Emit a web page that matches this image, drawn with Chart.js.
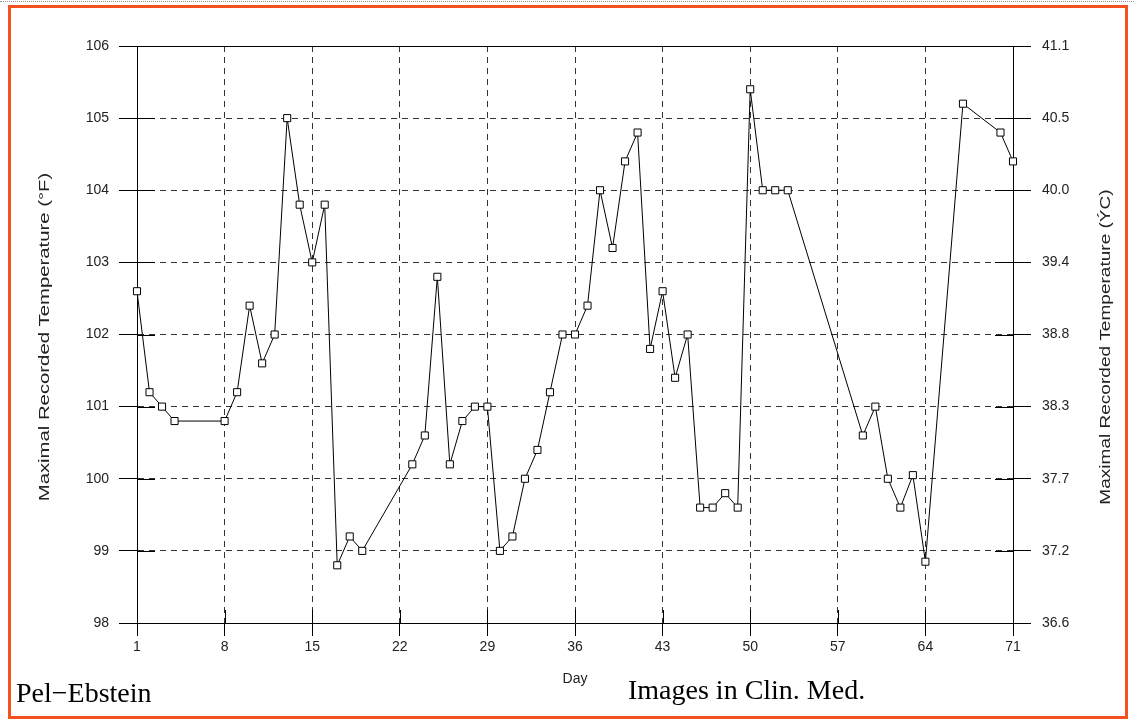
<!DOCTYPE html>
<html>
<head>
<meta charset="utf-8">
<script src="https://cdn.jsdelivr.net/npm/chart.js@4/dist/chart.umd.min.js"></script>
<style>
  html, body { margin: 0; padding: 0; background: #fff; }
  #wrap { position: relative; width: 1134px; height: 722px; overflow: hidden; }
  #chart { position: absolute; left: 0; top: 0; }
  .frame { position: absolute; left: 8px; top: 5px; width: 1114px; height: 708px; border: 3px solid #f4511e; }
  .dots { position: absolute; left: 0; top: 1px; width: 1134px; border-top: 1px dotted #999; }
  .caption { position: absolute; font-family: "Liberation Serif", "Times New Roman", serif; font-size: 28px; line-height: 1; color: #000; white-space: nowrap; }
</style>
</head>
<body>
<div id="wrap">
  <div class="dots"></div>
  <div class="frame"></div>
  <canvas id="chart" width="1134" height="722"></canvas>
  <div class="caption" style="left:16px; top:679px;">Pel&minus;Ebstein</div>
  <div class="caption" style="left:628px; top:676px;">Images in Clin. Med.</div>
</div>
<script>
// ===== Data =====
const days = [1, 2, 3, 4, 8, 9, 10, 11, 12, 13, 14, 15, 16, 17, 18, 19,
  23, 24, 25, 26, 27, 28, 29, 30, 31, 32, 33, 34, 35, 36, 37, 38, 39, 40, 41, 42,
  43, 44, 45, 46, 47, 48, 49, 50, 51, 52, 53, 59, 60, 61, 62, 63, 64, 67, 70, 71];
const tempF = [102.6, 101.2, 101.0, 100.8, 100.8, 101.2, 102.4, 101.6, 102.0, 105.0, 103.8, 103.0, 103.8, 98.8, 99.2, 99.0,
  100.2, 100.6, 102.8, 100.2, 100.8, 101.0, 101.0, 99.0, 99.2, 100.0, 100.4, 101.2, 102.0, 102.0, 102.4, 104.0, 103.2, 104.4, 104.8, 101.8,
  102.6, 101.4, 102.0, 99.6, 99.6, 99.8, 99.6, 105.4, 104.0, 104.0, 104.0, 100.6, 101.0, 100.0, 99.6, 100.05, 98.85, 105.2, 104.8, 104.4];
const dayTicks = [1, 8, 15, 22, 29, 36, 43, 50, 57, 64, 71];
const fTicks = [98, 99, 100, 101, 102, 103, 104, 105, 106];
const cLabels = ["36.6", "37.2", "37.7", "38.3", "38.8", "39.4", "40.0", "40.5", "41.1"];

const tickFont = { family: "'Liberation Sans', Arial, sans-serif", size: 14 };
const textColor = "#222";
const gridColor = "#333";
const dash = [6, 5];

// vertical axis titles, stretched along their length like the original
function drawTitle(ctx, text, x, y, stretch) {
  ctx.save();
  ctx.font = "14px 'Liberation Sans', Arial, sans-serif";
  ctx.fillStyle = textColor;
  ctx.textAlign = "center";
  ctx.textBaseline = "middle";
  ctx.translate(x, y);
  ctx.rotate(-Math.PI / 2);
  ctx.scale(stretch, 1);
  ctx.fillText(text, 0, 0);
  ctx.restore();
}

// solid tick pieces inside the plot, top frame line, axis titles
const framePlugin = {
  id: "frame",
  beforeDatasetsDraw(chart) {
    const { ctx, chartArea: a, scales } = chart;
    ctx.save();
    ctx.strokeStyle = "#000";
    ctx.lineWidth = 1;
    ctx.beginPath();
    fTicks.forEach(v => {
      const y = Math.round(scales.y.getPixelForValue(v)) + 0.5;
      ctx.moveTo(a.left, y); ctx.lineTo(a.left + 18, y);
      ctx.moveTo(a.right - 18, y); ctx.lineTo(a.right, y);
    });
    dayTicks.forEach(d => {
      const x = Math.round(scales.x.getPixelForValue(d)) + 0.5;
      ctx.moveTo(x, a.bottom); ctx.lineTo(x, a.bottom - 13);
    });
    const top = Math.round(a.top) + 0.5;
    ctx.moveTo(a.left, top); ctx.lineTo(a.right, top);
    ctx.stroke();
    ctx.restore();
  },
  afterDraw(chart) {
    const { ctx } = chart;
    drawTitle(ctx, "Maximal Recorded Temperature (\u00B0F)", 45, 337, 1.45);
    drawTitle(ctx, "Maximal Recorded Temperature (\u00DDC)", 1106, 347, 1.36);
  }
};

const ctx = document.getElementById("chart").getContext("2d");

new Chart(ctx, {
  type: "line",
  data: {
    datasets: [{
      data: days.map((d, i) => ({ x: d, y: tempF[i] })),
      borderColor: "#000",
      borderWidth: 1,
      tension: 0,
      pointStyle: "rect",
      pointRadius: 5,
      pointBorderWidth: 1,
      pointBorderColor: "#000",
      pointBackgroundColor: "#fff",
      clip: false
    }]
  },
  options: {
    responsive: false,
    animation: false,
    events: [],
    layout: { padding: { top: 46, left: 0, right: 0, bottom: 0 } },
    plugins: { legend: { display: false }, tooltip: { enabled: false } },
    scales: {
      x: {
        type: "linear",
        min: 1,
        max: 71,
        afterBuildTicks: s => { s.ticks = dayTicks.map(v => ({ value: v })); },
        afterFit: s => { s.height = 99; },
        grid: { color: gridColor, tickColor: "#000", tickLength: 13, lineWidth: 1 },
        border: { display: true, color: "#000", width: 1, dash: dash },
        ticks: { font: tickFont, color: textColor, padding: 3, maxRotation: 0, autoSkip: false },
        title: {
          display: true, text: "Day", color: textColor,
          font: { family: "'Liberation Sans', Arial, sans-serif", size: 14 },
          padding: { top: 0, bottom: 34 }
        }
      },
      y: {
        position: "left",
        min: 98,
        max: 106,
        afterBuildTicks: s => { s.ticks = fTicks.map(v => ({ value: v })); },
        afterFit: s => { s.width = 137; },
        grid: { color: gridColor, tickColor: "#000", tickLength: 18, lineWidth: 1 },
        border: { display: true, color: "#000", width: 1, dash: dash },
        ticks: { font: tickFont, color: textColor, padding: 10 }
      },
      y2: {
        position: "right",
        min: 98,
        max: 106,
        afterBuildTicks: s => { s.ticks = fTicks.map(v => ({ value: v })); },
        afterFit: s => { s.width = 121; },
        grid: { drawOnChartArea: false, tickColor: "#000", tickLength: 18, lineWidth: 1 },
        border: { display: true, color: "#000", width: 1 },
        ticks: {
          font: tickFont, color: textColor, padding: 11,
          callback: v => cLabels[fTicks.indexOf(v)]
        }
      }
    }
  },
  plugins: [framePlugin]
});
</script>
</body>
</html>
